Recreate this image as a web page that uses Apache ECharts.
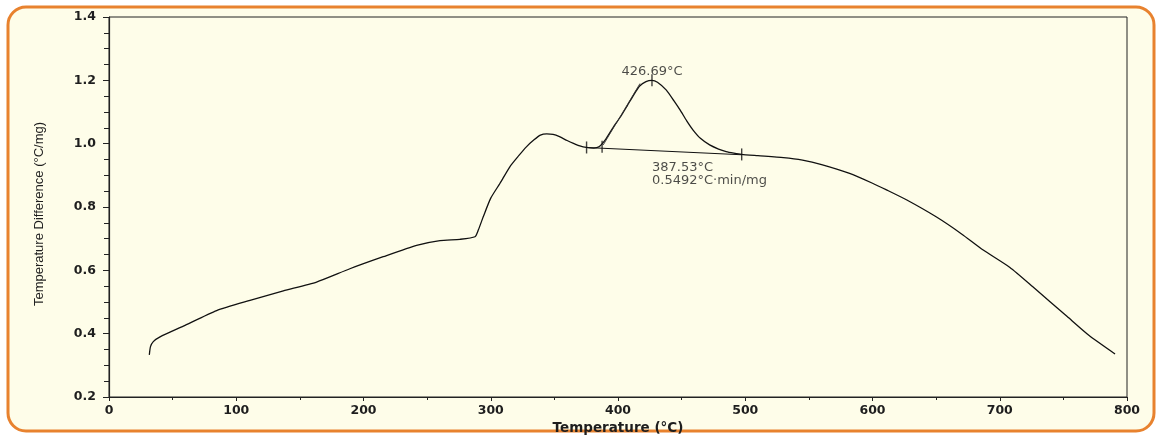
<!DOCTYPE html>
<html>
<head>
<meta charset="utf-8">
<script src="https://cdn.jsdelivr.net/npm/echarts@6/dist/echarts.min.js"></script>
<style>
html,body{margin:0;padding:0;background:#ffffff;}
#c{width:1160px;height:435px;}
</style>
</head>
<body>
<div id="c"></div>
<script>
// Main DTA curve: temperature (°C) and temperature difference (°C/mg)
const temps = [31.7, 32.6, 34.8, 40.1, 58.4, 84.6, 110.8, 137, 163.1, 189.3, 215.5, 241.7, 260.1, 275.8, 287.6, 290.2, 294.1, 300, 307.3, 315, 322, 328, 334, 339, 344, 349, 354, 360, 365, 370, 375, 381, 385, 390, 396, 402, 407, 412, 417, 422, 426.7, 431, 438, 444, 449, 454, 459, 465, 472, 479, 485, 491, 497, 510, 530, 545, 560, 582, 600, 611, 627, 650, 670, 687, 708, 726, 753, 770, 790.6];
const values = [0.333, 0.359, 0.375, 0.390, 0.424, 0.473, 0.505, 0.535, 0.563, 0.605, 0.643, 0.679, 0.694, 0.698, 0.706, 0.727, 0.769, 0.828, 0.875, 0.927, 0.962, 0.990, 1.012, 1.027, 1.031, 1.029, 1.022, 1.010, 1.001, 0.993, 0.988, 0.986, 0.990, 1.012, 1.050, 1.085, 1.118, 1.152, 1.182, 1.196, 1.200, 1.194, 1.169, 1.135, 1.105, 1.072, 1.043, 1.016, 0.996, 0.983, 0.975, 0.970, 0.966, 0.962, 0.956, 0.948, 0.934, 0.906, 0.875, 0.854, 0.822, 0.769, 0.715, 0.664, 0.609, 0.548, 0.454, 0.395, 0.336];

// Peak baseline and onset tangent
const baseline = [[375.3, 0.988], [497.2, 0.965]];
const tangent = [[388.4, 0.996], [417.3, 1.190]];

// Vertical marker ticks on the curve
const markerTicks = [[375.3, 0.988], [387.5, 0.990], [497.2, 0.966], [426.7, 1.200]];

// Annotation texts
const peakLabel = { pos: [426.7, 1.229], text: '426.69°C' };
const onsetLabel = { pos: [426.7, 0.903], lines: ['387.53°C', '0.5492°C·min/mg'] };

const xTicks = { min: 0, max: 800, interval: 100 };
const yTicks = { min: 0.2, max: 1.4, interval: 0.2 };

const chart = echarts.init(document.getElementById('c'), null, { renderer: 'canvas' });
const txt = '#1e1e1e';
const font = 'DejaVu Sans';

chart.setOption({
  backgroundColor: '#ffffff',
  animation: false,
  graphic: [{
    type: 'rect', z: -10, silent: true,
    shape: { x: 8, y: 7, width: 1146, height: 424, r: 18 },
    style: { fill: '#fefde9', stroke: '#e8822e', lineWidth: 3 }
  }],
  grid: { left: 109, right: 33, top: 17, bottom: 38, containLabel: false, outerBoundsMode: 'none',
    show: true, borderColor: '#222', borderWidth: 1, backgroundColor: 'transparent' },
  xAxis: {
    type: 'value', min: xTicks.min, max: xTicks.max, interval: xTicks.interval,
    name: 'Temperature (°C)', nameLocation: 'middle', nameGap: 24,
    nameTextStyle: { fontFamily: font, fontSize: 13.5, fontWeight: 'bold', color: txt },
    axisLine: { lineStyle: { color: '#222', width: 1.2 } },
    axisTick: { show: true, length: 4, lineStyle: { color: '#222' } },
    minorTick: { show: true, splitNumber: 2, length: 3, lineStyle: { color: '#222' } },
    splitLine: { show: false },
    axisLabel: { fontFamily: font, fontSize: 12.5, fontWeight: 'bold', color: txt, margin: 7 }
  },
  yAxis: {
    type: 'value', min: yTicks.min, max: yTicks.max, interval: yTicks.interval,
    name: 'Temperature Difference (°C/mg)', nameLocation: 'middle', nameGap: 63,
    nameTextStyle: { fontFamily: 'Liberation Sans', fontSize: 13, color: txt, padding: [0, 14, 0, 0] },
    axisLine: { show: true, lineStyle: { color: '#222', width: 1.2 } },
    axisTick: { show: true, length: 6, lineStyle: { color: '#222' } },
    minorTick: { show: true, splitNumber: 4, length: 5, lineStyle: { color: '#222' } },
    splitLine: { show: false },
    axisLabel: { fontFamily: font, fontSize: 12.5, fontWeight: 'bold', color: txt, margin: 13, formatter: v => v.toFixed(1) }
  },
  series: [
    {
      type: 'line', data: temps.map((t, i) => [t, values[i]]),
      showSymbol: false, smooth: 0.2,
      lineStyle: { color: '#111', width: 1.3 }, z: 3
    },
    {
      type: 'line', data: baseline, showSymbol: false,
      lineStyle: { color: '#111', width: 1.1 }
    },
    {
      type: 'line', data: tangent, showSymbol: false,
      lineStyle: { color: '#333', width: 0.9 }
    },
    {
      type: 'scatter', data: markerTicks, symbol: 'rect', symbolSize: [1.4, 12],
      itemStyle: { color: '#111' }, z: 4
    },
    {
      type: 'scatter', symbolSize: 0, z: 5,
      data: [{ value: peakLabel.pos }],
      label: { show: true, position: 'inside', formatter: peakLabel.text,
        fontFamily: font, fontSize: 13, color: txt }
    },
    {
      type: 'scatter', symbolSize: 0, z: 5,
      data: [{ value: onsetLabel.pos }],
      label: { show: true, position: 'inside', align: 'left', verticalAlign: 'middle', lineHeight: 13,
        formatter: onsetLabel.lines.join('\n'),
        fontFamily: font, fontSize: 13, color: txt }
    }
  ]
});
</script>
</body>
</html>
